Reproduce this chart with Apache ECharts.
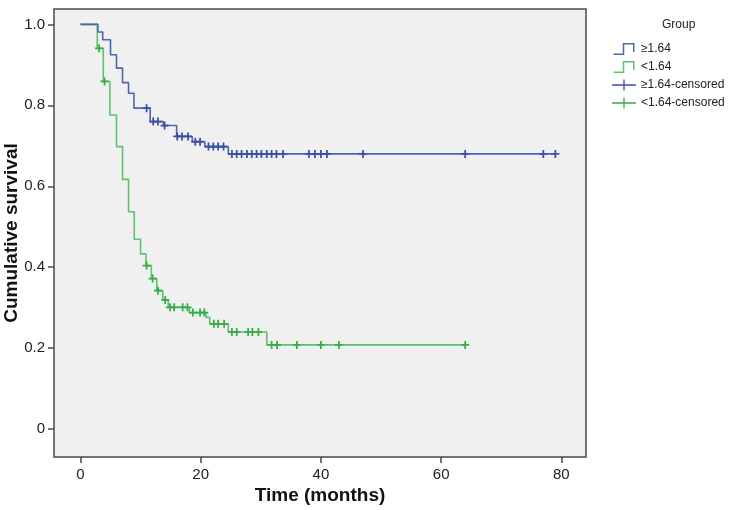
<!DOCTYPE html>
<html>
<head>
<meta charset="utf-8">
<script src="https://cdn.jsdelivr.net/npm/echarts@6/dist/echarts.min.js"></script>
<style>
html,body{margin:0;padding:0;background:#fff;}
#chart{width:743px;height:510px;}
</style>
</head>
<body>
<div id="chart"></div>
<script>
// ---- Data ----
const xTicks = [0, 20, 40, 60, 80];
const yTicks = [0, 0.2, 0.4, 0.6, 0.8, 1.0];
const groupNames = ['≥1.64', '<1.64', '≥1.64-censored', '<1.64-censored'];

// Kaplan-Meier step curve, group >=1.64
const blueTimes = [0, 2.9, 3.7, 5.0, 6.0, 7.0, 8.0, 8.9, 11.6, 13.8, 16.0, 18.6, 20.7, 24.6, 79];
const blueSurv  = [1.0, 0.981, 0.962, 0.925, 0.892, 0.856, 0.83, 0.793, 0.76, 0.75, 0.723, 0.71, 0.698, 0.68, 0.68];
// censored observations, group >=1.64
const blueCensorT = [11.0, 12.1, 12.9, 14.0, 16.1, 16.9, 17.9, 19.1, 19.9, 21.3, 22.1, 22.9, 23.8,
                     25.2, 26.0, 26.8, 27.7, 28.5, 29.3, 30.1, 31.0, 31.8, 32.6, 33.7, 38, 39, 40, 41, 47, 64, 77, 79];
const blueCensorS = [0.793, 0.76, 0.76, 0.75, 0.723, 0.723, 0.723, 0.71, 0.71, 0.698, 0.698, 0.698, 0.698,
                     0.68, 0.68, 0.68, 0.68, 0.68, 0.68, 0.68, 0.68, 0.68, 0.68, 0.68, 0.68, 0.68, 0.68, 0.68, 0.68, 0.68, 0.68, 0.68];

// Kaplan-Meier step curve, group <1.64
const greenTimes = [0, 2.8, 3.8, 4.9, 6.0, 7.0, 8.0, 8.95, 10.0, 10.9, 11.8, 12.7, 13.7, 14.6, 18.1, 20.9, 21.5, 24.6, 31.0, 64];
const greenSurv  = [1.0, 0.941, 0.859, 0.776, 0.698, 0.617, 0.537, 0.469, 0.433, 0.404, 0.372, 0.342, 0.319, 0.301, 0.288, 0.276, 0.26, 0.24, 0.208, 0.208];
// censored observations, group <1.64
const greenCensorT = [3.1, 4.0, 11.0, 12.0, 12.9, 14.1, 14.9, 15.6, 17.0, 17.8, 18.7, 19.9, 20.6,
                      22.2, 22.9, 23.9, 25.2, 26.0, 27.9, 28.6, 29.6, 31.8, 32.7, 36, 40, 43, 64];
const greenCensorS = [0.941, 0.859, 0.404, 0.372, 0.342, 0.319, 0.301, 0.301, 0.301, 0.301, 0.288, 0.288, 0.288,
                      0.26, 0.26, 0.26, 0.24, 0.24, 0.24, 0.24, 0.24, 0.208, 0.208, 0.208, 0.208, 0.208, 0.208];

// ---- Styling ----
const blueLine = '#4f64b1', blueMark = '#3a4fa2';
const greenLine = '#5dc46b', greenMark = '#35ad46';
const axisCol = '#4a4a4a';
const FONT = 'Liberation Sans, Arial, sans-serif';

const plusPath = 'path://M3.9,0 H6.1 V3.9 H10 V6.1 H6.1 V10 H3.9 V6.1 H0 V3.9 H3.9 Z';
const stepIcon = 'path://M0,10.5 L9.25,10.5 L9.25,0 L21,0 L21,9 L19.5,9 L19.5,1.5 L10.75,1.5 L10.75,12 L0,12 Z';
const censIcon = 'path://M0,5.3 H12.3 V0 H13.7 V5.3 H26 V6.7 H13.7 V12 H12.3 V6.7 H0 Z';

const zip = (a, b) => a.map((v, i) => [v, b[i]]);

const chart = echarts.init(document.getElementById('chart'), null, {renderer: 'canvas'});
chart.setOption({
  animation: false,
  backgroundColor: '#ffffff',
  textStyle: {fontFamily: FONT},
  title: {
    text: 'Group', left: 657, top: 14,
    textStyle: {fontSize: 12, fontWeight: 'normal', color: '#222', fontFamily: FONT}
  },
  legend: {
    orient: 'vertical', left: 612, top: 43, padding: 0,
    itemWidth: 24, itemHeight: 12, itemGap: 6,
    textStyle: {fontSize: 12, color: '#222', fontFamily: FONT},
    data: [
      {name: groupNames[0], icon: stepIcon, itemStyle: {color: blueLine, borderWidth: 0}},
      {name: groupNames[1], icon: stepIcon, itemStyle: {color: greenLine, borderWidth: 0}},
      {name: groupNames[2], icon: censIcon, itemStyle: {color: blueMark, borderWidth: 0}},
      {name: groupNames[3], icon: censIcon, itemStyle: {color: greenMark, borderWidth: 0}}
    ]
  },
  grid: {
    left: 54, right: 157, top: 9, bottom: 53, show: true,
    containLabel: false, outerBoundsMode: 'none',
    backgroundColor: '#f0f0f0', borderColor: axisCol, borderWidth: 1.5
  },
  xAxis: {
    type: 'value', min: -4.4, max: 84.1, position: 'bottom',
    name: 'Time (months)', nameLocation: 'middle', nameGap: 29, nameMoveOverlap: false,
    nameTextStyle: {fontSize: 19, fontWeight: 'bold', color: '#111', fontFamily: FONT},
    axisLine: {show: false, onZero: false},
    axisTick: {show: true, inside: false, length: 6, customValues: xTicks, lineStyle: {color: axisCol, width: 1.5}},
    axisLabel: {customValues: xTicks, fontSize: 15, color: '#222', margin: 10, fontFamily: FONT},
    splitLine: {show: false}
  },
  yAxis: {
    type: 'value', min: -0.069, max: 1.038, position: 'left',
    name: 'Cumulative survival', nameLocation: 'middle', nameGap: 33, nameRotate: 90, nameMoveOverlap: false,
    nameTextStyle: {fontSize: 19, fontWeight: 'bold', color: '#111', fontFamily: FONT},
    axisLine: {show: false, onZero: false},
    axisTick: {show: true, inside: false, length: 6, customValues: yTicks, lineStyle: {color: axisCol, width: 1.5}},
    axisLabel: {customValues: yTicks, fontSize: 15, color: '#222', margin: 9, fontFamily: FONT,
      formatter: v => (Math.abs(v) < 1e-9 ? '0' : v.toFixed(1))},
    splitLine: {show: false}
  },
  series: [
    {
      name: groupNames[1], type: 'line', step: 'end', showSymbol: false,
      data: zip(greenTimes, greenSurv),
      lineStyle: {color: greenLine, width: 1.6}, itemStyle: {color: greenLine}, z: 2
    },
    {
      name: groupNames[0], type: 'line', step: 'end', showSymbol: false,
      data: zip(blueTimes, blueSurv),
      lineStyle: {color: blueLine, width: 1.6}, itemStyle: {color: blueLine}, z: 2
    },
    {
      name: groupNames[3], type: 'scatter', symbol: plusPath, symbolSize: 8,
      data: zip(greenCensorT, greenCensorS),
      itemStyle: {color: greenMark, opacity: 1}, z: 3
    },
    {
      name: groupNames[2], type: 'scatter', symbol: plusPath, symbolSize: 8,
      data: zip(blueCensorT, blueCensorS),
      itemStyle: {color: blueMark, opacity: 1}, z: 3
    }
  ]
});
</script>
</body>
</html>
